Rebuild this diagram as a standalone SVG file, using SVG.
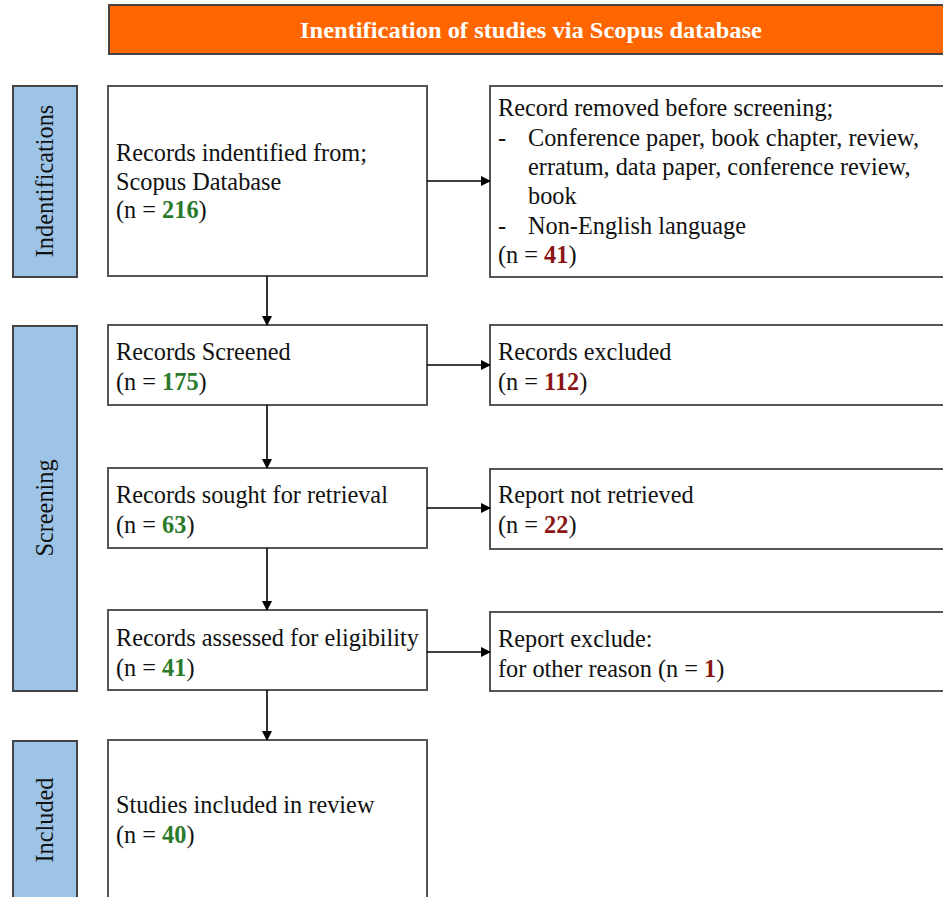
<svg xmlns="http://www.w3.org/2000/svg" width="943" height="897" viewBox="0 0 943 897">
<style>
.box{fill:#fff;stroke:#555;stroke-width:2}
.side{fill:#9dc3e6;stroke:#444;stroke-width:2}
.t{font-family:"Liberation Serif","Times New Roman",serif;font-size:24.3px;fill:#111}
.side-t{font-family:"Liberation Serif","Times New Roman",serif;font-size:24.3px;fill:#111;text-anchor:middle}
.g{fill:#2a7a2a;font-weight:bold}
.r{fill:#8b1515;font-weight:bold}
.c{stroke:#000;stroke-width:1.6;fill:none;marker-end:url(#ah)}
</style>
<defs>
<marker id="ah" markerWidth="10" markerHeight="10" refX="9" refY="5" orient="auto" markerUnits="userSpaceOnUse">
<path d="M0,0 L10,5 L0,10 Z" fill="#000"/>
</marker>
</defs>
<rect width="943" height="897" fill="#fff"/>
<g id="header">
<rect x="109" y="5" width="845" height="49" fill="#ff6600" stroke="#444" stroke-width="2"/>
<text x="531" y="38" text-anchor="middle" font-family="Liberation Serif,Times New Roman,serif" font-size="23" font-weight="bold" fill="#fff" textLength="462" lengthAdjust="spacingAndGlyphs">Inentification of studies via Scopus database</text>
</g>
<g id="side-identifications">
<rect class="side" x="13" y="86" width="64" height="191"/>
<text class="side-t" transform="translate(53,181) rotate(-90)">Indentifications</text>
</g>
<g id="side-screening">
<rect class="side" x="13" y="326" width="64" height="365"/>
<text class="side-t" transform="translate(53,508) rotate(-90)">Screening</text>
</g>
<g id="side-included">
<rect class="side" x="13" y="741" width="64" height="170"/>
<text class="side-t" transform="translate(53,820) rotate(-90)">Included</text>
</g>
<g id="n-identified">
<rect class="box" x="108" y="86" width="319" height="190"/>
<text class="t" x="116" y="161">Records indentified from;</text>
<text class="t" x="116" y="190">Scopus Database</text>
<text class="t" x="116" y="218">(n = <tspan class="g">216</tspan>)</text>
</g>
<g id="n-removed">
<rect class="box" x="490" y="86" width="470" height="191"/>
<text class="t" x="498" y="116">Record removed before screening;</text>
<text class="t" x="498" y="146">-</text>
<text class="t" x="528" y="146">Conference paper, book chapter, review,</text>
<text class="t" x="528" y="175">erratum, data paper, conference review,</text>
<text class="t" x="528" y="204">book</text>
<text class="t" x="498" y="234">-</text>
<text class="t" x="528" y="234">Non-English language</text>
<text class="t" x="498" y="263">(n = <tspan class="r">41</tspan>)</text>
</g>
<g id="n-screened">
<rect class="box" x="108" y="325" width="319" height="80"/>
<text class="t" x="116" y="360">Records Screened</text>
<text class="t" x="116" y="390">(n = <tspan class="g">175</tspan>)</text>
</g>
<g id="n-excluded">
<rect class="box" x="490" y="325" width="470" height="80"/>
<text class="t" x="498" y="360">Records excluded</text>
<text class="t" x="498" y="390">(n = <tspan class="r">112</tspan>)</text>
</g>
<g id="n-sought">
<rect class="box" x="108" y="468" width="319" height="80"/>
<text class="t" x="116" y="503">Records sought for retrieval</text>
<text class="t" x="116" y="533">(n = <tspan class="g">63</tspan>)</text>
</g>
<g id="n-notretrieved">
<rect class="box" x="490" y="469" width="470" height="80"/>
<text class="t" x="498" y="503">Report not retrieved</text>
<text class="t" x="498" y="533">(n = <tspan class="r">22</tspan>)</text>
</g>
<g id="n-assessed">
<rect class="box" x="108" y="610" width="319" height="80"/>
<text class="t" x="116" y="646">Records assessed for eligibility</text>
<text class="t" x="116" y="676">(n = <tspan class="g">41</tspan>)</text>
</g>
<g id="n-reportexclude">
<rect class="box" x="490" y="612" width="470" height="79"/>
<text class="t" x="498" y="647">Report exclude:</text>
<text class="t" x="498" y="677">for other reason (n = <tspan class="r">1</tspan>)</text>
</g>
<g id="n-included">
<rect class="box" x="108" y="740" width="319" height="180"/>
<text class="t" x="116" y="813">Studies included in review</text>
<text class="t" x="116" y="843">(n = <tspan class="g">40</tspan>)</text>
</g>
<g id="connectors">
<line class="c" x1="427" y1="181" x2="490" y2="181"/>
<line class="c" x1="427" y1="365" x2="490" y2="365"/>
<line class="c" x1="427" y1="508" x2="490" y2="508"/>
<line class="c" x1="427" y1="652" x2="490" y2="652"/>
<line class="c" x1="267" y1="276" x2="267" y2="325"/>
<line class="c" x1="267" y1="405" x2="267" y2="468"/>
<line class="c" x1="267" y1="548" x2="267" y2="610"/>
<line class="c" x1="267" y1="690" x2="267" y2="740"/>
</g>
</svg>
